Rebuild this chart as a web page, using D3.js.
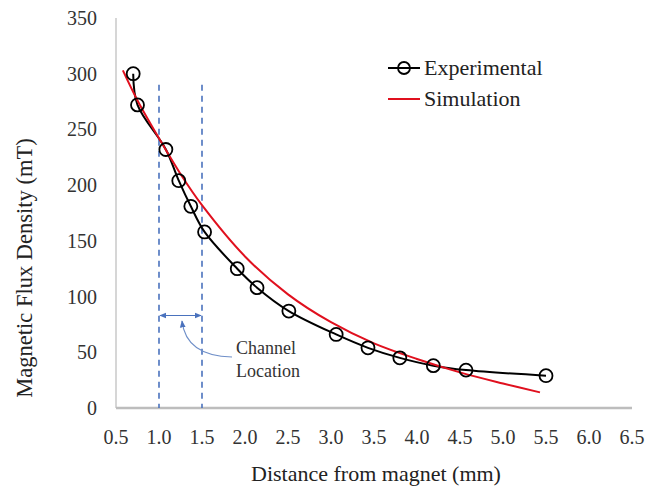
<!DOCTYPE html>
<html>
<head>
<meta charset="utf-8">
<script src="https://cdn.jsdelivr.net/npm/d3@7"></script>
<style>
  body { margin: 0; background: #fff; }
  svg { font-family: "Liberation Serif", "Times New Roman", serif; }
</style>
</head>
<body>
<div id="chart"></div>
<script>
// valeurs
var expX = [0.7, 0.75, 1.08, 1.23, 1.37, 1.53, 1.91, 2.14, 2.51, 3.06, 3.43, 3.80, 4.19, 4.57, 5.5];
var expY = [300, 272, 232, 204, 181, 158, 125, 108, 87, 66, 54, 45, 38, 34, 29];

var simX = [0.58, 0.75, 1.0, 1.25, 1.5, 2.0, 2.5, 3.0, 3.5, 4.0, 4.5, 5.0, 5.43];
var simY = [303, 276, 242, 210, 182, 136, 102, 77, 58, 44, 32, 22, 14];

var xTicks = [0.5, 1.0, 1.5, 2.0, 2.5, 3.0, 3.5, 4.0, 4.5, 5.0, 5.5, 6.0, 6.5];
var yTicks = [0, 50, 100, 150, 200, 250, 300, 350];

var channelX = [1.0, 1.5];   // position du canal (mm)
var channelTop = 290;        // haut des pointillés (mT)
var arrowY = 83;             // fleche double (mT)

var width = 660, height = 487;
var svg = d3.select("#chart").append("svg")
  .attr("width", width)
  .attr("height", height);

var x = d3.scaleLinear().domain([0.5, 6.5]).range([116, 632]);
var y = d3.scaleLinear().domain([0, 350]).range([408, 18]);

// axes
svg.append("line")
  .attr("x1", x(0.5)).attr("x2", x(0.5))
  .attr("y1", y(350)).attr("y2", y(0))
  .attr("stroke", "#c8c8c8").attr("stroke-width", 1.5);
svg.append("line")
  .attr("x1", x(0.5)).attr("x2", x(6.5))
  .attr("y1", y(0)).attr("y2", y(0))
  .attr("stroke", "#bdbdbd").attr("stroke-width", 2.5);

svg.append("g").selectAll("text")
  .data(yTicks)
  .enter().append("text")
  .attr("x", 97)
  .attr("y", function(d) { return y(d); })
  .attr("dy", "0.35em")
  .attr("text-anchor", "end")
  .attr("font-size", 20)
  .attr("fill", "#333")
  .text(function(d) { return d; });

svg.append("g").selectAll("text")
  .data(xTicks)
  .enter().append("text")
  .attr("x", function(d) { return x(d); })
  .attr("y", 444)
  .attr("text-anchor", "middle")
  .attr("font-size", 20)
  .attr("fill", "#333")
  .text(function(d) { return d.toFixed(1); });

svg.append("text")
  .attr("x", 376)
  .attr("y", 481)
  .attr("text-anchor", "middle")
  .attr("font-size", 22)
  .attr("fill", "#222")
  .text("Distance from magnet (mm)");

svg.append("text")
  .attr("transform", "translate(32,268)rotate(-90)")
  .attr("text-anchor", "middle")
  .attr("font-size", 22.5)
  .attr("fill", "#222")
  .text("Magnetic Flux Density (mT)");

// canal
var blue = "#4a72bd";
svg.append("g").selectAll("line")
  .data(channelX)
  .enter().append("line")
  .attr("x1", function(d) { return x(d); })
  .attr("x2", function(d) { return x(d); })
  .attr("y1", y(channelTop))
  .attr("y2", y(0))
  .attr("stroke", blue)
  .attr("stroke-width", 1.6)
  .attr("stroke-dasharray", "6,5");

var defs = svg.append("defs");
defs.append("marker")
  .attr("id", "head")
  .attr("viewBox", "0 0 10 10")
  .attr("refX", 9).attr("refY", 5)
  .attr("markerWidth", 6).attr("markerHeight", 6)
  .attr("orient", "auto-start-reverse")
  .append("path")
  .attr("d", "M0,1L10,5L0,9z")
  .attr("fill", blue);

svg.append("line")
  .attr("x1", x(channelX[0]) + 1).attr("x2", x(channelX[1]) - 1)
  .attr("y1", y(arrowY)).attr("y2", y(arrowY))
  .attr("stroke", blue).attr("stroke-width", 1.2)
  .attr("marker-start", "url(#head)")
  .attr("marker-end", "url(#head)");

svg.append("path")
  .attr("d", "M232,357 Q186,356 182,321")
  .attr("fill", "none")
  .attr("stroke", "#6f8fc8")
  .attr("stroke-width", 1.2)
  .attr("marker-end", "url(#head)");

svg.append("text")
  .attr("x", 236).attr("y", 354)
  .attr("font-size", 18).attr("fill", "#333")
  .text("Channel");
svg.append("text")
  .attr("x", 236).attr("y", 377)
  .attr("font-size", 18).attr("fill", "#333")
  .text("Location");

// courbes
var expData = expX.map(function(d, i) { return [d, expY[i]]; });
var simData = simX.map(function(d, i) { return [d, simY[i]]; });

var line = d3.line()
  .x(function(d) { return x(d[0]); })
  .y(function(d) { return y(d[1]); })
  .curve(d3.curveCatmullRom.alpha(0.5));

svg.append("path")
  .datum(expData)
  .attr("d", line)
  .attr("fill", "none")
  .attr("stroke", "#000")
  .attr("stroke-width", 2);

svg.append("path")
  .datum(simData)
  .attr("d", line)
  .attr("fill", "none")
  .attr("stroke", "#e0101e")
  .attr("stroke-width", 2);

svg.append("g").selectAll("circle")
  .data(expData)
  .enter().append("circle")
  .attr("cx", function(d) { return x(d[0]); })
  .attr("cy", function(d) { return y(d[1]); })
  .attr("r", 6.5)
  .attr("fill", "none")
  .attr("stroke", "#000")
  .attr("stroke-width", 1.8);

// legende
var legend = svg.append("g");
legend.append("line")
  .attr("x1", 388).attr("x2", 420).attr("y1", 68).attr("y2", 68)
  .attr("stroke", "#000").attr("stroke-width", 2);
legend.append("circle")
  .attr("cx", 404).attr("cy", 68).attr("r", 6)
  .attr("fill", "none").attr("stroke", "#000").attr("stroke-width", 1.8);
legend.append("text")
  .attr("x", 424).attr("y", 68).attr("dy", "0.33em")
  .attr("font-size", 22).attr("fill", "#222")
  .text("Experimental");
legend.append("line")
  .attr("x1", 388).attr("x2", 420).attr("y1", 99).attr("y2", 99)
  .attr("stroke", "#e0101e").attr("stroke-width", 2);
legend.append("text")
  .attr("x", 424).attr("y", 99).attr("dy", "0.33em")
  .attr("font-size", 22).attr("fill", "#222")
  .text("Simulation");
</script>
</body>
</html>
